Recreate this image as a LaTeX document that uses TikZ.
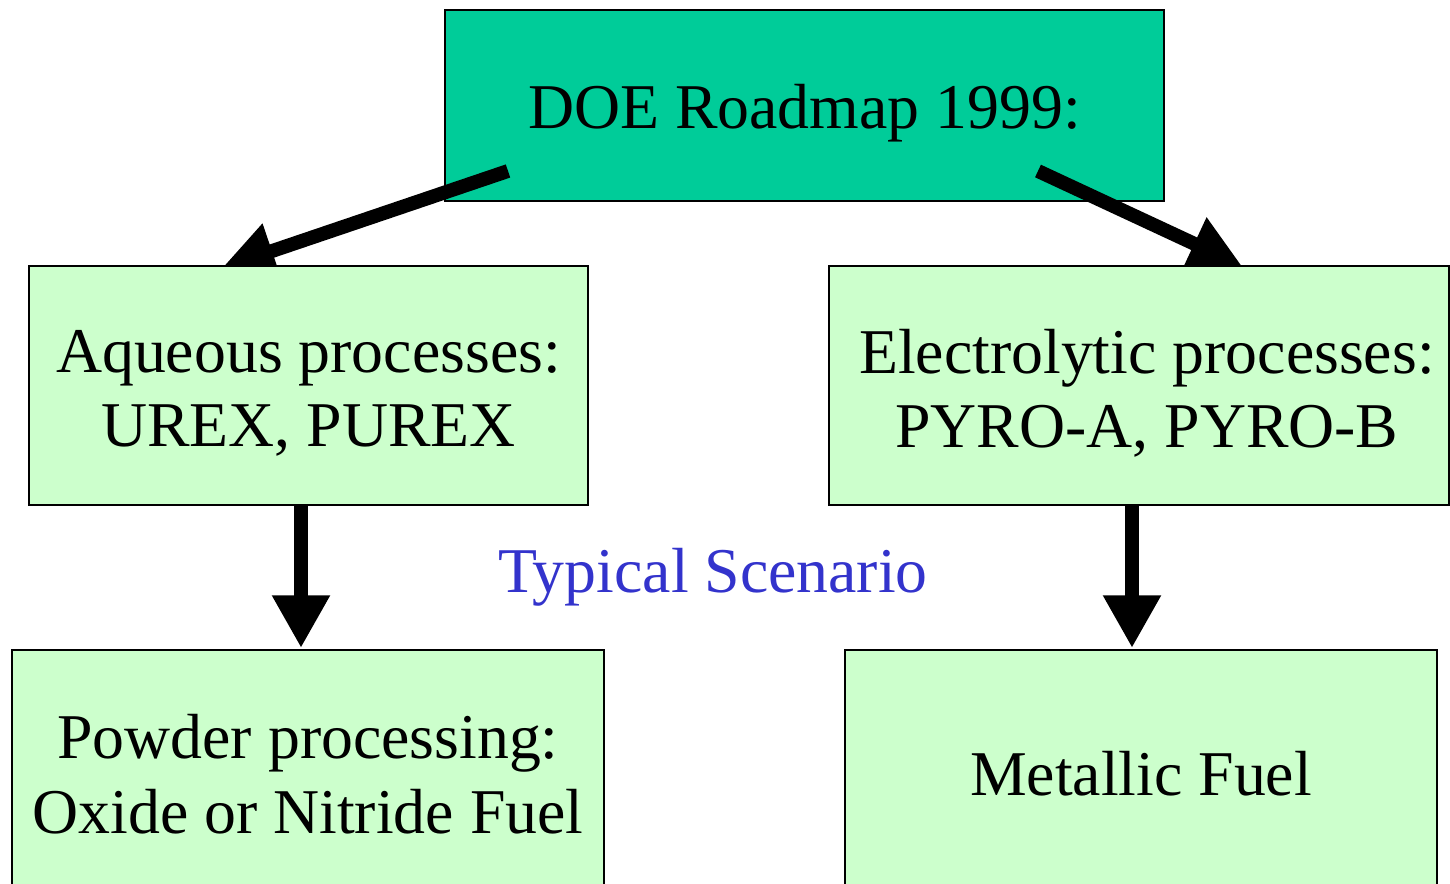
\documentclass[tikz,border=0pt]{standalone}
\usepackage{fontspec}
\setmainfont{Liberation Serif}
\usetikzlibrary{arrows.meta}
\definecolor{topgreen}{RGB}{0,204,153}
\definecolor{lightgreen}{RGB}{204,255,204}
\definecolor{scenblue}{RGB}{51,51,204}
\begin{document}
\begin{tikzpicture}[x=0.02cm,y=-0.02cm,
  boxstyle/.style={draw=black,line width=0.8pt,inner sep=0pt},
  textstyle/.style={inner sep=0pt,align=center,font=\fontsize{36.3}{42.5}\selectfont},
  bigarrow/.style={line width=7.9pt,-{Triangle[length=30pt,width=31pt]}}]
\path[use as bounding box,clip] (0,0) rectangle (1450,884);
\node[boxstyle,fill=topgreen,minimum width=14.38cm,minimum height=3.82cm] (top) at (804.5,105.5) {};
\node[textstyle,yshift=-4.5pt] (toptext) at (top.center) {DOE Roadmap 1999:};
\coordinate (la0) at (508,171);
\coordinate (la1) at (222,268);
\coordinate (ra0) at (1038,171);
\coordinate (ra1) at (1242,266);
\coordinate (lb0) at (301,500);
\coordinate (lb1) at (301,648);
\coordinate (rb0) at (1132,500);
\coordinate (rb1) at (1132,648);
\draw[bigarrow] (la0) -- (la1);
\draw[bigarrow] (ra0) -- (ra1);
\draw[bigarrow] (lb0) -- (lb1);
\draw[bigarrow] (rb0) -- (rb1);
\node[boxstyle,fill=lightgreen,minimum width=11.18cm,minimum height=4.78cm] (aq) at (308.5,385.5) {};
\node[textstyle,yshift=-4.5pt] (aqtext) at (aq.center) {Aqueous processes:\\UREX, PUREX};
\node[boxstyle,fill=lightgreen,minimum width=12.4cm,minimum height=4.78cm] (el) at (1139,385.5) {};
\node[textstyle,yshift=-4.5pt,xshift=4.5pt] (eltext) at (el.center) {Electrolytic processes:\\PYRO-A, PYRO-B};
\node[boxstyle,fill=lightgreen,minimum width=11.84cm,minimum height=4.96cm] (pw) at (308,774) {};
\node[textstyle] (pwtext) at (pw.center) {Powder processing:\\Oxide or Nitride Fuel};
\node[boxstyle,fill=lightgreen,minimum width=11.84cm,minimum height=4.96cm] (mf) at (1141,774) {};
\node[textstyle] (mftext) at (mf.center) {Metallic Fuel};
\node[anchor=base,inner sep=0pt,text=scenblue,font=\fontsize{36.3}{42.5}\selectfont] (scen) at (713,593) {Typical Scenario};
\end{tikzpicture}
\end{document}
